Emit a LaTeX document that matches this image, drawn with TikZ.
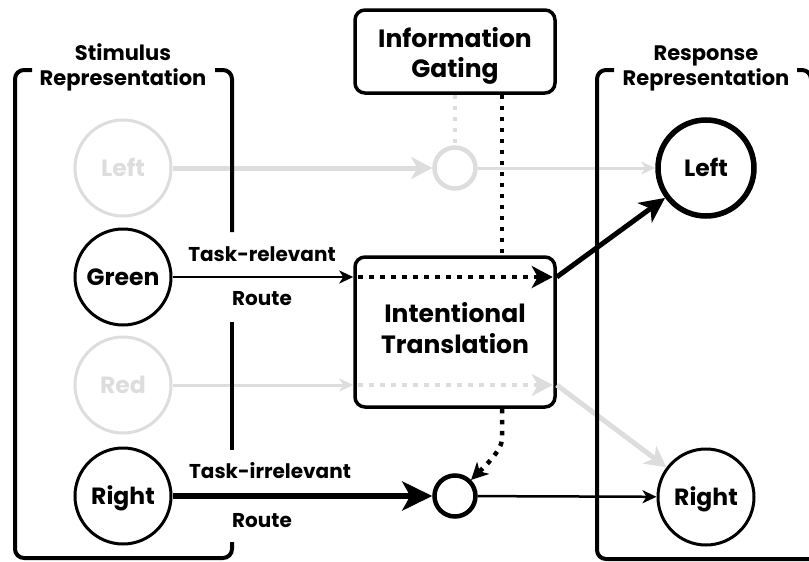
\documentclass[tikz,border=0pt]{standalone}
\usepackage{fontspec}
\setmainfont{Poppins}
\usetikzlibrary{arrows.meta,calc}
\definecolor{faint}{RGB}{221,221,221}
\begin{document}
\begin{tikzpicture}[x=1pt,y=-1pt,
  circtxt/.style={font=\bfseries\fontsize{23.5}{26}\selectfont},
  stim/.style={circle,draw,line width=3pt,minimum size=96pt,inner sep=0pt,
    text height=16.5pt,text depth=0pt,circtxt},
  faded/.style={draw=faint,text=faint},
  gatec/.style={circle,draw,line width=4.5pt,minimum size=41pt,inner sep=0pt},
  module/.style={draw,rounded corners=10pt,line width=3.5pt,minimum width=200pt,inner sep=0pt},
  modtxt/.style={anchor=base,font=\bfseries\fontsize{25}{28}\selectfont},
  hdr/.style={anchor=base,font=\bfseries\fontsize{21}{24}\selectfont},
  lbl/.style={anchor=base,font=\bfseries\fontsize{20}{25}\selectfont},
  bracketline/.style={line width=4pt,rounded corners=9pt},
  dotline/.style={line width=4.5pt,dash pattern=on 4.5pt off 6.5pt},
  thintip/.style={-{Stealth[length=14pt,width=13pt,inset=4pt]}},
  midtip/.style={-{Stealth[length=21pt,width=22pt,inset=6pt]}},
  bigtip/.style={-{Stealth[length=30pt,width=29pt,inset=8pt]}},
]
\useasboundingbox (0,0) rectangle (809,562);

% stimulus and response units
\node[stim,faded] (sLeft)  at (123,168) {Left};
\node[stim]       (sGreen) at (123,277) {Green};
\node[stim,faded] (sRed)   at (123,385) {Red};
\node[stim]       (sRight) at (123,496) {Right};
\node[stim,line width=5.5pt] (rLeft) at (706,168) {Left};
\node[stim]       (rRight) at (706,497) {Right};

% gates
\node[gatec,draw=faint] (gTop) at (455,168) {};
\node[gatec]            (gBot) at (455,496) {};

% control modules
\node[module,minimum height=83pt]  (gating) at (455,51.5) {};
\node[module,minimum height=150pt] (trans)  at (455,332) {};
\node[modtxt] (gating1) at (455,47)  {Information};
\node[modtxt] (gating2) at (455,77)  {Gating};
\node[modtxt] (trans1)  at (455,322) {Intentional};
\node[modtxt] (trans2)  at (455,353) {Translation};

% group headings
\node[hdr] (stimH1) at (123,60) {Stimulus};
\node[hdr] (stimH2) at (123,85) {Representation};
\node[hdr] (respH1) at (706,60) {Response};
\node[hdr] (respH2) at (706,85) {Representation};

% route labels
\node[lbl] (relA) at (262,261) {Task-relevant};
\node[lbl] (relB) at (262,305) {Route};
\node[lbl] (irrA) at (270,478) {Task-irrelevant};
\node[lbl] (irrB) at (262,527) {Route};

% anchor points on the translation module
\coordinate (gx) at (502,0);
\coordinate (tInG)  at (trans.west |- sGreen.center);
\coordinate (tInR)  at (trans.west |- sRed.center);
\coordinate (tOutG) at (trans.east |- sGreen.center);
\coordinate (tOutR) at (trans.east |- sRed.center);

% inactive pathways
\draw[faint,line width=5pt,midtip] (sLeft) -- (gTop);
\draw[faint,line width=3pt,thintip] (gTop) -- (rLeft);
\draw[faint,dotline] (gating.south) -- (gTop.north);
\draw[faint,line width=3pt,thintip] (sRed) -- (tInR);
\draw[faint,dotline,midtip] ($(tInR)+(5,0)$) -- ($(tOutR)+(-4,0)$);
\draw[faint,line width=5pt,midtip] (tOutR) -- (rRight);

% representation brackets
\draw[bracketline] (32,70) -- (15,70) -- (15,558) -- (232,558) -- (232,542);
\draw[bracketline] (215,70) -- (232,70) -- (232,232);
\draw[bracketline] (232,322) -- (232,450);
\draw[bracketline] (614,70) -- (597,70) -- (597,559) -- (815,559);
\draw[bracketline] (797,70) -- (811,70) -- (811,130);

% active pathways
\draw[line width=2.5pt,thintip] (sGreen) -- (tInG);
\draw[dotline,midtip] ($(tInG)+(5,0)$) -- ($(tOutG)+(-4,0)$);
\draw[line width=5pt,-{Stealth[length=25pt,width=24pt,inset=7pt]}] (tOutG) -- (rLeft);
\draw[dotline] (gating.south -| gx) -- (trans.north -| gx);
\draw[dotline,-{Stealth[length=17pt,width=17pt,inset=5pt]}]
  (trans.south -| gx) -- ++(0,30) .. controls +(0,12) and +(12,-12) .. (gBot.45);
\draw[line width=6.5pt,bigtip] (sRight) -- (gBot);
\draw[line width=2.5pt,thintip] (gBot) -- (rRight);
\end{tikzpicture}
\end{document}
